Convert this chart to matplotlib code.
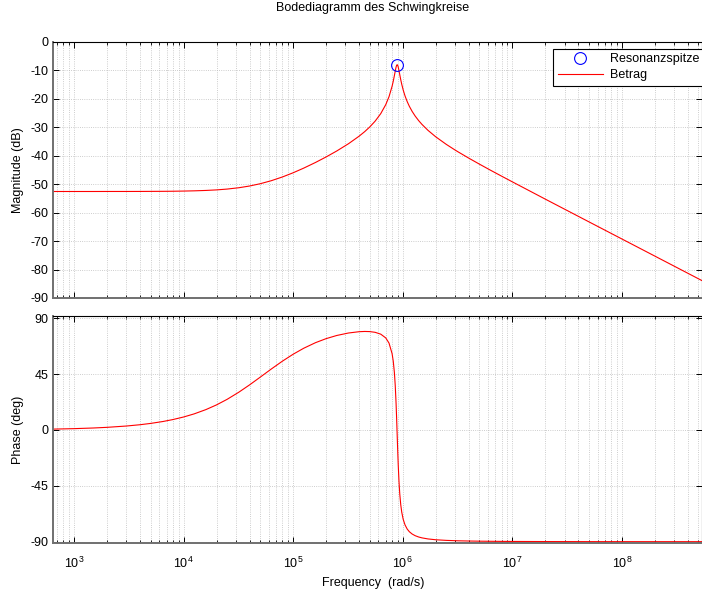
import numpy as np
import matplotlib
matplotlib.use("Agg")
import matplotlib.pyplot as plt
import matplotlib.ticker as ticker

plt.rcParams['font.family'] = ['Liberation Sans', 'DejaVu Sans']
plt.rcParams['mathtext.fontset'] = 'custom'
plt.rcParams['mathtext.rm'] = 'Liberation Sans'
plt.rcParams['mathtext.it'] = 'Liberation Sans'
plt.rcParams['mathtext.default'] = 'regular'
plt.rcParams['axes.unicode_minus'] = False

# values (rad/s, dB, deg)
freq = [640, 1e3, 1.5e3, 2e3, 3e3, 4e3, 5e3, 6.5e3, 8e3,
        1e4, 1.25e4, 1.6e4, 2e4, 2.5e4, 3.2e4, 4e4, 5e4, 6.3e4, 8e4,
        1e5, 1.25e5, 1.6e5, 2e5, 2.5e5, 3.2e5, 4e5, 4.5e5, 5e5, 5.6e5,
        6.3e5, 7e5, 7.5e5, 8e5, 8.2e5, 8.4e5, 8.55e5, 8.7e5, 8.8e5,
        8.9e5, 9.0e5, 9.1e5, 9.25e5, 9.4e5, 9.6e5, 9.8e5, 1.01e6, 1.05e6,
        1.1e6, 1.15e6, 1.22e6, 1.3e6, 1.4e6, 1.5e6, 1.7e6, 2e6, 2.5e6,
        3e6, 3.2e6, 4e6, 5e6, 6.3e6, 8e6, 1e7, 2e7, 5e7, 1e8, 2e8, 5.35e8]
magnitude_db = [-52.60, -52.60, -52.60, -52.59, -52.59, -52.58, -52.56,
                -52.54, -52.51,
                -52.45, -52.37, -52.23, -52.04, -51.75, -51.28, -50.68,
                -49.88, -48.83, -47.49,
                -46.03, -44.39, -42.41, -40.47, -38.38, -35.83, -33.18,
                -31.58, -29.95, -27.91,
                -25.27, -22.12, -19.31, -15.66, -13.86, -11.86, -10.30,
                -8.91, -8.29,
                -8.07, -8.29, -8.88, -10.17, -11.58, -13.38, -14.95, -16.94,
                -19.04,
                -21.08, -22.69, -24.49, -26.12, -27.74, -29.05, -31.12,
                -33.39, -36.06,
                -38.02, -38.68, -40.87, -42.97, -45.09, -47.23, -49.20,
                -55.28, -63.25, -69.27, -75.29, -83.84]
phase_deg = [0.68, 1.05, 1.58, 2.11, 3.16, 4.21, 5.26, 6.82, 8.38,
             10.43, 12.95, 16.40, 20.19, 24.68, 30.45, 36.28, 42.48, 49.00,
             55.47,
             60.99, 65.83, 70.31, 73.56, 76.10, 78.10, 79.15, 79.35, 79.24,
             78.66,
             77.18, 74.16, 69.98, 61.49, 55.37, 46.05, 35.71, 21.34, 9.48,
             -3.47, -16.28, -27.80, -41.56, -51.43, -60.33, -66.22, -71.94,
             -76.50,
             -79.88, -81.98, -83.84, -85.18, -86.24, -86.93, -87.78, -88.44,
             -88.95,
             -89.20, -89.28, -89.46, -89.59, -89.68, -89.76, -89.81, -89.90,
             -89.96, -89.98, -89.99, -90.00]

peak_freq = 8.9e5
peak_db = -8.07

mag_ticks = list(range(-90, 1, 10))
phase_ticks = [-90, -45, 0, 45, 90]
x_limits = (640, 5.35e8)

W, H = 702, 592
FS = 9


def style_axes(ax, show_xlabels):
    ax.set_xscale("log")
    ax.set_xlim(*x_limits)
    ax.xaxis.set_major_locator(ticker.LogLocator(base=10, numticks=20))
    ax.xaxis.set_minor_locator(ticker.LogLocator(base=10, subs=range(2, 10), numticks=200))
    ax.xaxis.set_minor_formatter(ticker.NullFormatter())
    if show_xlabels:
        ax.xaxis.set_major_formatter(ticker.FuncFormatter(
            lambda v, p: "$10^{%d}$" % round(np.log10(v))))
    else:
        ax.xaxis.set_major_formatter(ticker.NullFormatter())
    ax.grid(which="major", ls=":", color="#bdbdbd", lw=0.6)
    ax.grid(which="minor", axis="x", ls=":", color="#bdbdbd", lw=0.6)
    ax.tick_params(which="both", direction="in", top=True, right=True,
                   labelsize=FS, colors="black")
    ax.tick_params(which="major", length=4, width=0.7)
    ax.tick_params(which="minor", length=2.5, width=0.6)
    ax.tick_params(axis="y", pad=3)
    ax.tick_params(axis="x", pad=9)
    for side in ("left", "bottom"):
        ax.spines[side].set_color("#707070")
        ax.spines[side].set_linewidth(1.4)
    ax.spines["top"].set_linewidth(0.8)
    ax.spines["right"].set_linewidth(0.8)
    ax.set_axisbelow(True)


fig = plt.figure(figsize=(W / 100, H / 100), dpi=100)

ax_mag = fig.add_axes([52.7 / W, 1 - 298.0 / H, 649.0 / W, 256.3 / H])
ax_mag.plot(freq, magnitude_db, color="red", lw=0.8, label="Betrag")
ax_mag.plot([peak_freq], [peak_db], ls="none", marker="o", ms=8.5,
            mfc="none", mec="blue", mew=0.8, label="Resonanzspitze")
style_axes(ax_mag, show_xlabels=False)
ax_mag.set_ylim(-90, 0)
ax_mag.set_yticks(mag_ticks)
ax_mag.set_yticklabels([str(t) for t in mag_ticks])

handles, labels = ax_mag.get_legend_handles_labels()
leg = ax_mag.legend(handles[::-1], labels[::-1], loc="upper left",
                    bbox_to_anchor=(0.7716, 0.9715), borderaxespad=0,
                    fontsize=FS, fancybox=False, framealpha=1,
                    edgecolor="black", handlelength=3.6, handletextpad=0.6,
                    borderpad=0.35, labelspacing=0.3)
leg.get_frame().set_linewidth(0.8)

ax_ph = fig.add_axes([52.7 / W, 1 - 543.3 / H, 649.0 / W, 227.3 / H])
ax_ph.plot(freq, phase_deg, color="red", lw=0.8)
style_axes(ax_ph, show_xlabels=True)
ax_ph.set_ylim(-91.3, 91.8)
ax_ph.set_yticks(phase_ticks)
ax_ph.set_yticklabels([str(t) for t in phase_ticks])

fig.text(372.4 / W, 1 - 8.0 / H, "Bodediagramm des Schwingkreise",
         ha="center", va="center", fontsize=FS)
fig.text(18.3 / W, 1 - 170.0 / H, "Magnitude (dB)", rotation=90,
         ha="center", va="center", fontsize=FS)
fig.text(18.3 / W, 1 - 430.0 / H, "Phase (deg)", rotation=90,
         ha="center", va="center", fontsize=FS)
fig.text(373.5 / W, 1 - 582.7 / H, "Frequency  (rad/s)",
         ha="center", va="center", fontsize=FS)

fig.savefig("out.png", dpi=100)
